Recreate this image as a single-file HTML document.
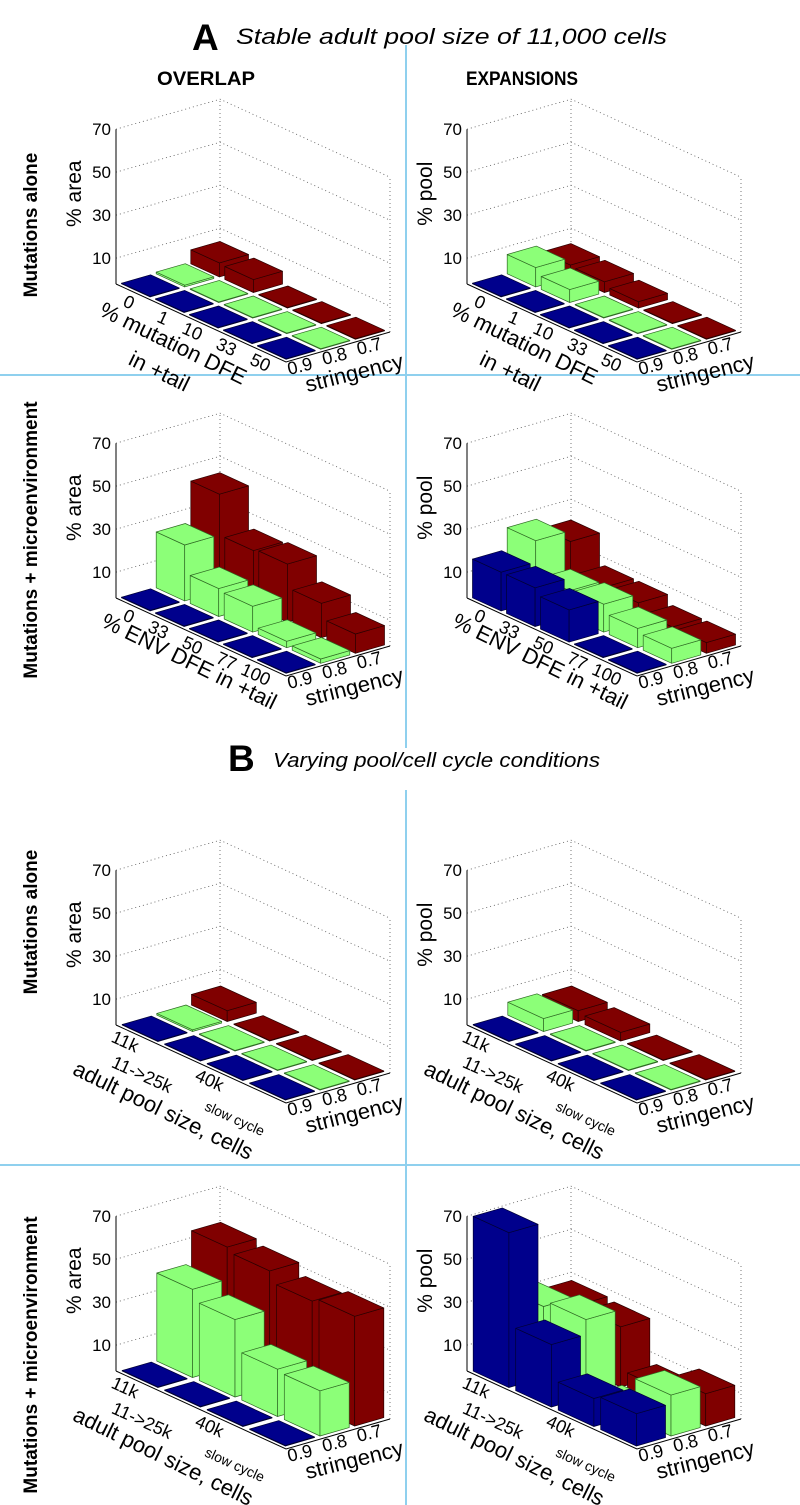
<!DOCTYPE html>
<html><head><meta charset="utf-8"><style>
html,body{margin:0;padding:0;background:#fff}
svg{display:block}
text{font-family:"Liberation Sans",Arial,sans-serif;fill:#000}
</style></head><body>
<svg id="fig" width="800" height="1505" viewBox="0 0 800 1505" xmlns="http://www.w3.org/2000/svg">
<g stroke="#8fd0ee" stroke-width="2">
<line x1="406" y1="45" x2="406" y2="748"/>
<line x1="406" y1="790" x2="406" y2="1505"/>
<line x1="0" y1="375" x2="800" y2="375"/>
<line x1="0" y1="1165" x2="800" y2="1165"/>
</g>
<text x="192" y="50" font-size="37" font-weight="bold">A</text>
<text x="236" y="44" font-size="22" font-style="italic" textLength="431" lengthAdjust="spacingAndGlyphs">Stable adult pool size of 11,000 cells</text>
<text x="157" y="85" font-size="19" font-weight="bold" textLength="98" lengthAdjust="spacingAndGlyphs">OVERLAP</text>
<text x="466" y="85" font-size="19" font-weight="bold" textLength="112" lengthAdjust="spacingAndGlyphs">EXPANSIONS</text>
<text x="228" y="771" font-size="37" font-weight="bold">B</text>
<text x="273" y="767" font-size="20" font-style="italic" textLength="327" lengthAdjust="spacingAndGlyphs">Varying pool/cell cycle conditions</text>
<text transform="translate(37,225) rotate(-90)" text-anchor="middle" font-size="19" font-weight="bold">Mutations alone</text>
<text transform="translate(37,540) rotate(-90)" text-anchor="middle" font-size="19" font-weight="bold">Mutations + microenvironment</text>
<text transform="translate(37,922) rotate(-90)" text-anchor="middle" font-size="19" font-weight="bold">Mutations alone</text>
<text transform="translate(37,1355) rotate(-90)" text-anchor="middle" font-size="19" font-weight="bold">Mutations + microenvironment</text>
</svg>
<script>
// ---- data ----
const catsA1 = ["0","1","10","33","50"];
const catsA2 = ["0","33","50","77","100"];
const catsB = ["11k","11->25k","40k","slow cycle"];
const stringencyLabels = ["0.9","0.8","0.7"];
const zTicks = [10,30,50,70];
// values per stringency row: [0.9 (blue), 0.8 (green), 0.7 (red)]
const p1Blue = [0,0,0,0,0];
const p1Green = [0.8,0.3,0.3,0.3,0.3];
const p1Red = [6.5,6,0.3,0.3,0.3];
const p2Blue = [0,0,0,0,0];
const p2Green = [9,6,0.3,0.3,0.3];
const p2Red = [5.5,5,3,0.3,0.3];
const p3Blue = [0,0,0,0,0];
const p3Green = [26,13,12,3,2];
const p3Red = [45,26,27,16,9];
const p4Blue = [18,18,15,0,0];
const p4Green = [28,12,13,9,7];
const p4Red = [23,9,9,5,5];
const p5Blue = [0,0,0,0];
const p5Green = [0.8,0.3,0.3,0.3];
const p5Red = [5,0.3,0.3,0.3];
const p6Blue = [0,0,0,0];
const p6Green = [6,0.3,0.3,0.3];
const p6Red = [5,4,0.3,0.3];
const p7Blue = [0.3,0.3,0.3,0.3];
const p7Green = [41,36,22,21];
const p7Red = [56,54,49,51];
const p8Blue = [72,29,13,15];
const p8Green = [33,36,3,19];
const p8Red = [29,28,8,15];

const NS='http://www.w3.org/2000/svg';
const svg=document.getElementById('fig');
const K=2.15, ZMIN=-2, CX=170, CY=78, SX=104, SY=-30;
const COLORS=['#00008c','#8cff78','#800000'];
const EDGES=['#000033','#2f6a24','#2a0000'];
function mk(tag,attrs,parent){const e=document.createElementNS(NS,tag);for(const k in attrs)e.setAttribute(k,attrs[k]);(parent||svg).appendChild(e);return e;}

function panel(id,ax,ay,cats,series,xlab,zlab,isB){
  const g=mk('g',{});
  
  
  const n=cats.length;
  const P=(c,s,z)=>[ax+c*CX+s*SX, ay+c*CY+s*SY-(z-ZMIN)*K];
  const pts=a=>a.map(p=>p[0].toFixed(1)+','+p[1].toFixed(1)).join(' ');
  const grid=mk('g',{stroke:'#555','stroke-width':'0.8','stroke-dasharray':'1,3',fill:'none'},g);
  
  
  zTicks.forEach(v=>{
    const a=P(0,0,v),b=P(0,1,v),c=P(1,1,v);
    const gl=mk('polyline',{points:pts([a,b,c])},grid);
    
    
  });
  [P(0,1,ZMIN),P(1,1,ZMIN)].forEach((p,k)=>{
    const t=[p[0],p[1]-(70-ZMIN)*K];
    const vl=mk('line',{x1:p[0],y1:p[1],x2:t[0],y2:t[1]},grid);
    
    
  });
  const axg=mk('g',{stroke:'#000','stroke-width':'1',fill:'none'},g);
  
  
  const o=P(0,0,ZMIN),zt=P(0,0,70),c1=P(1,0,ZMIN),c2=P(1,1,ZMIN);
  const zl=mk('line',{x1:o[0],y1:o[1],x2:zt[0],y2:zt[1]},axg);
  
  
  const fl=mk('polyline',{points:pts([o,c1,c2])},axg);
  
  
  zTicks.forEach(v=>{
    const p=P(0,0,v);
    const t=mk('text',{x:p[0]-5,y:p[1]+6,'text-anchor':'end','font-size':'17'},g);
    t.textContent=v;
    
    
  });
  const zp=P(0,0,40);
  const zt2=mk('text',{transform:`translate(${ax-35},${zp[1]}) rotate(-90)`,'text-anchor':'middle','font-size':'21'},g);
  zt2.textContent=zlab;
  
  
  const bars=mk('g',{},g);
  
  
  for(let j=2;j>=0;j--){
    for(let i=0;i<n;i++){
      const h=Math.max(series[j][i],0.3);
      const cc=(i+0.5)/n, sc=(j+0.5)/3, dc=0.42/n, ds=0.42/3;
      const a0=cc-dc,a1=cc+dc,b0=sc-ds,b1=sc+ds;
      const zb=ZMIN+0.3, zh=ZMIN+0.3+h;
      const bg=mk('g',{fill:COLORS[j],stroke:EDGES[j],'stroke-width':'0.7','stroke-linejoin':'round'},bars);
      
      
      mk('polygon',{points:pts([P(a0,b0,zb),P(a1,b0,zb),P(a1,b0,zh),P(a0,b0,zh)])},bg);
      mk('polygon',{points:pts([P(a1,b0,zb),P(a1,b1,zb),P(a1,b1,zh),P(a1,b0,zh)])},bg);
      mk('polygon',{points:pts([P(a0,b0,zh),P(a1,b0,zh),P(a1,b1,zh),P(a0,b1,zh)])},bg);
    }
  }
  const ang=Math.atan2(CY,CX)*180/Math.PI;
  cats.forEach((c,i)=>{
    const p=P((i+0.5)/n,0,ZMIN);
    let x=p[0]-2,y=p[1]+18;
    if(isB&&i%2===1){x-=9;y+=21;}
    if(isB&&i===3){x+=8;y+=4;}
    const fs=(c==='slow cycle')?14:18;
    const t=mk('text',{transform:`translate(${x.toFixed(1)},${y.toFixed(1)}) rotate(${ang.toFixed(1)})`,'text-anchor':'end','font-size':fs},g);
    t.textContent=c;
    
    
  });
  stringencyLabels.forEach((s,j)=>{
    const p=P(1,(j+0.5)/3,ZMIN);
    const t=mk('text',{transform:`translate(${(p[0]-2).toFixed(1)},${(p[1]+15).toFixed(1)}) rotate(-14)`,'text-anchor':'middle','font-size':'18'},g);
    t.textContent=s;
    
    
  });
  const st=mk('text',{transform:`translate(${ax+240},${ay+96}) rotate(-14)`,'text-anchor':'middle','font-size':'22'},g);
  st.textContent='stringency';
  
  
  xlab.forEach((l,k)=>{
    const off=xlab.length===1?(isB?[44,92]:[70,70]):(k===0?[54,66]:[40,94]);
    const t=mk('text',{transform:`translate(${ax+off[0]},${ay+off[1]}) rotate(26)`,'text-anchor':'middle','font-size':'22'},g);
    t.textContent=l;
    
    
  });
}
const mutLab=["% mutation DFE","in +tail"], envLab=["% ENV DFE in +tail"], poolLab=["adult pool size, cells"];
panel('panel-a-overlap-mutations',116,284,catsA1,[p1Blue,p1Green,p1Red],mutLab,'% area',false);
panel('panel-a-expansions-mutations',467,284,catsA1,[p2Blue,p2Green,p2Red],mutLab,'% pool',false);
panel('panel-a-overlap-micro',116,598,catsA2,[p3Blue,p3Green,p3Red],envLab,'% area',false);
panel('panel-a-expansions-micro',467,598,catsA2,[p4Blue,p4Green,p4Red],envLab,'% pool',false);
panel('panel-b-overlap-mutations',116,1025,catsB,[p5Blue,p5Green,p5Red],poolLab,'% area',true);
panel('panel-b-expansions-mutations',467,1025,catsB,[p6Blue,p6Green,p6Red],poolLab,'% pool',true);
panel('panel-b-overlap-micro',116,1371,catsB,[p7Blue,p7Green,p7Red],poolLab,'% area',true);
panel('panel-b-expansions-micro',467,1371,catsB,[p8Blue,p8Green,p8Red],poolLab,'% pool',true);
</script>
</body></html>
